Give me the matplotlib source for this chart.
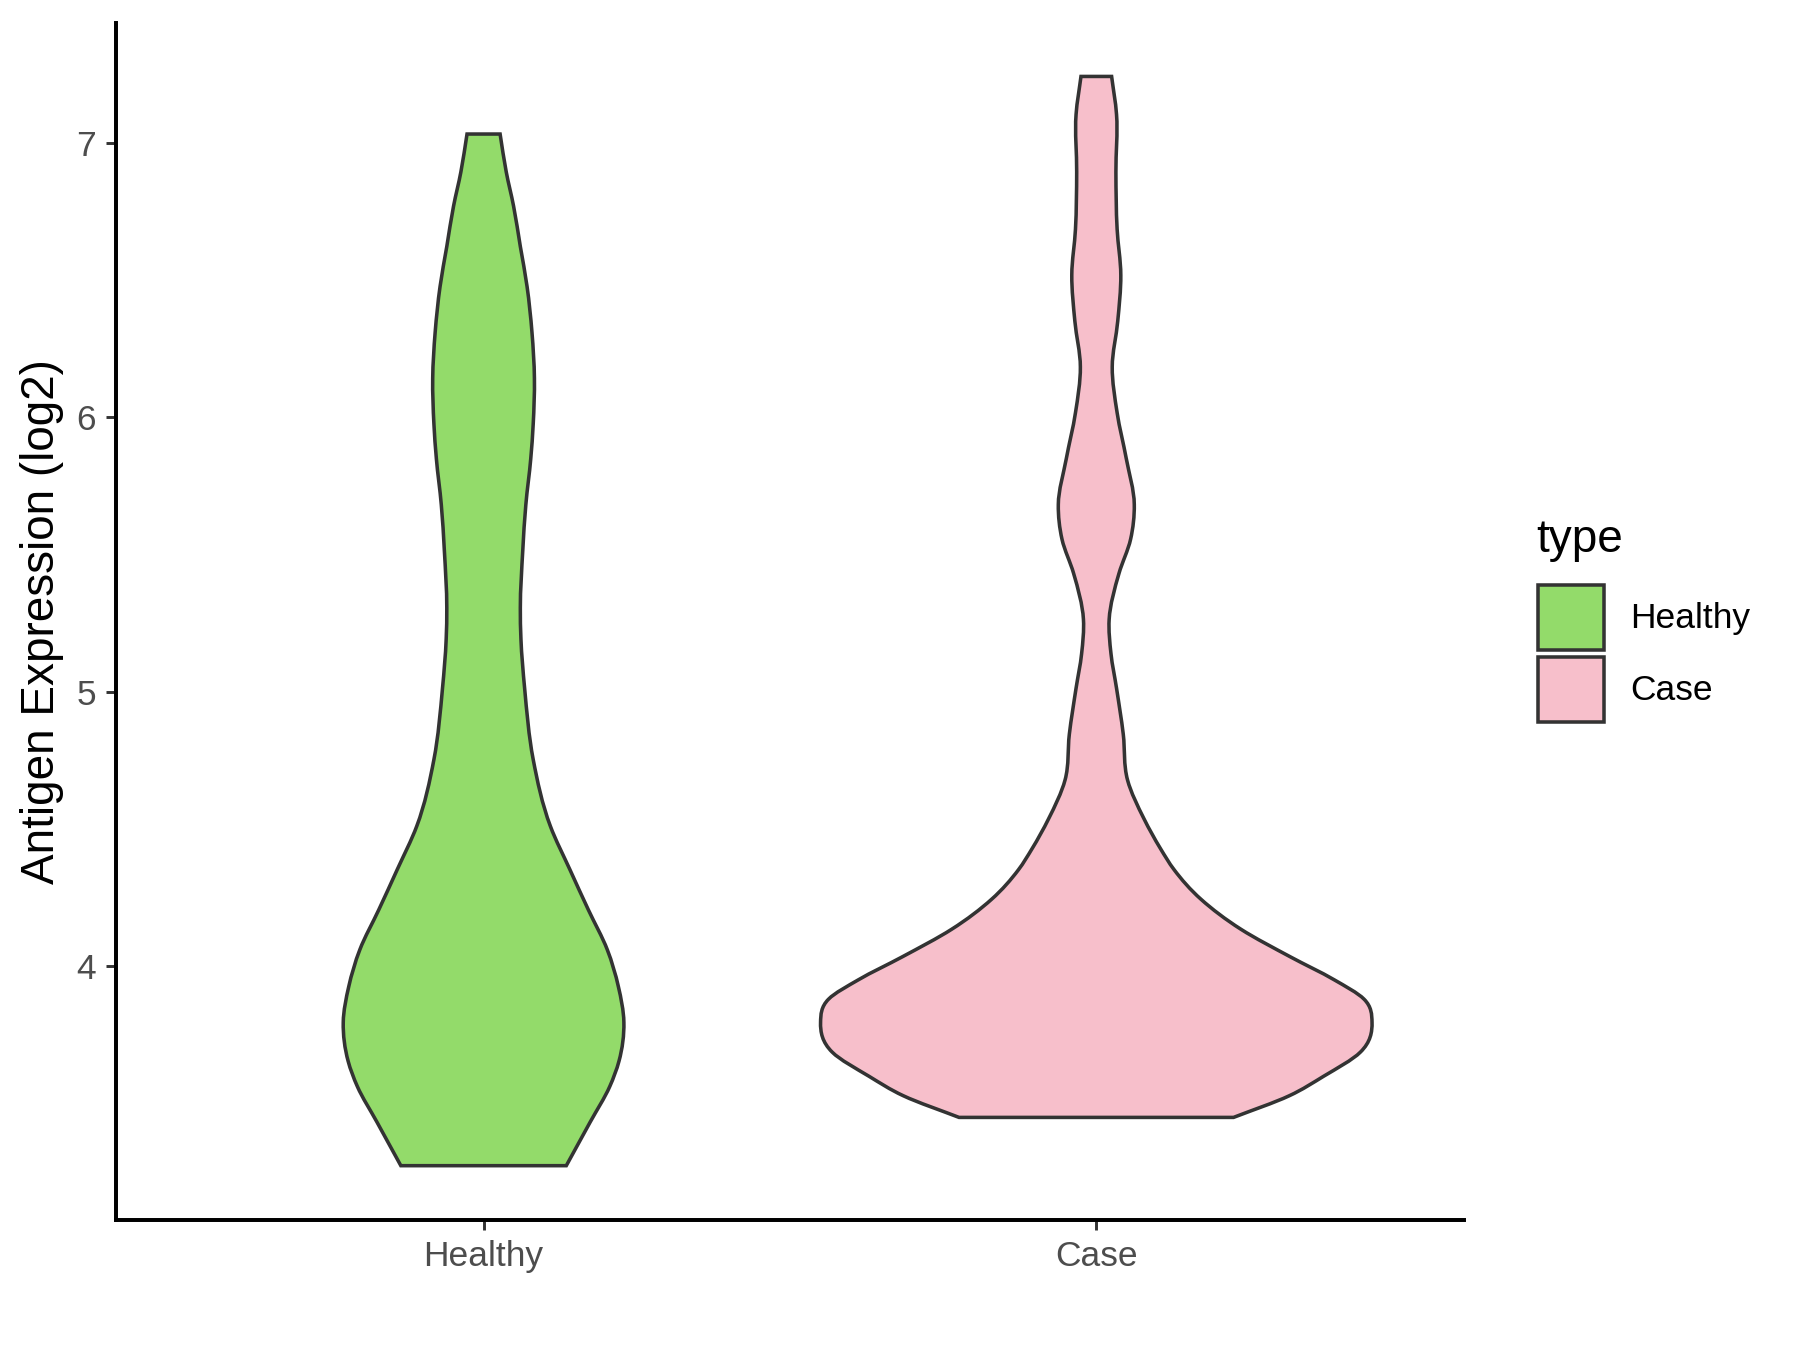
import numpy as np
import matplotlib
matplotlib.use("Agg")
import matplotlib.pyplot as plt
from matplotlib.path import Path
from matplotlib.patches import PathPatch, Rectangle

plt.rcParams['font.family'] = ['Liberation Sans', 'DejaVu Sans']

# violin outlines: y (log2) and half-width (x units), bottom -> top
healthy_y = [3.272, 3.431, 3.561, 3.653, 3.795, 3.925, 4.059, 4.205, 4.351, 4.510, 4.753,
             5.013, 5.192, 5.305, 5.515, 5.682, 5.849, 5.975, 6.142, 6.310, 6.477, 6.623,
             6.770, 6.895, 7.033]
healthy_w = [0.135, 0.174, 0.206, 0.221, 0.229, 0.220, 0.202, 0.171, 0.141, 0.109, 0.081,
             0.067, 0.061, 0.060, 0.064, 0.069, 0.077, 0.081, 0.083, 0.079, 0.071, 0.060,
             0.049, 0.037, 0.027]

case_y = [3.448, 3.527, 3.598, 3.686, 3.795, 3.879, 3.950, 4.033, 4.134, 4.243, 4.351,
          4.427, 4.536, 4.678, 4.845, 5.013, 5.138, 5.264, 5.431, 5.556, 5.682, 5.849,
          6.017, 6.184, 6.351, 6.519, 6.686, 6.895, 7.105, 7.243]
case_w = [0.224, 0.315, 0.371, 0.431, 0.450, 0.437, 0.388, 0.317, 0.236, 0.171, 0.127,
          0.105, 0.078, 0.051, 0.044, 0.033, 0.024, 0.021, 0.037, 0.056, 0.062, 0.049,
          0.034, 0.026, 0.035, 0.040, 0.034, 0.032, 0.033, 0.025]

groups = ['Healthy', 'Case']
colors = ['#93DB6A', '#F7BFCB']
edge = '#333333'


def slopes(ys, ws):
    # dw/dy at each point, weighted finite differences (uneven spacing)
    h = np.diff(ys)
    d = np.diff(ws) / h
    m = np.empty_like(ws)
    m[0] = d[0]
    m[-1] = d[-1]
    m[1:-1] = (d[:-1] * h[1:] + d[1:] * h[:-1]) / (h[:-1] + h[1:])
    return m


def side(center, sign, ys, ws, m):
    # cubic bezier segments along one side, bottom -> top
    verts = []
    for i in range(len(ys) - 1):
        h = ys[i + 1] - ys[i]
        c1 = (center + sign * (ws[i] + m[i] * h / 3), ys[i] + h / 3)
        c2 = (center + sign * (ws[i + 1] - m[i + 1] * h / 3), ys[i + 1] - h / 3)
        verts += [c1, c2, (center + sign * ws[i + 1], ys[i + 1])]
    return verts


def violin_path(center, ys, ws):
    ys = np.array(ys)
    ws = np.array(ws)
    m = slopes(ys, ws)
    verts = [(center - ws[0], ys[0]), (center + ws[0], ys[0])]
    codes = [Path.MOVETO, Path.LINETO]
    right = side(center, 1, ys, ws, m)
    verts += right
    codes += [Path.CURVE4] * len(right)
    verts.append((center - ws[-1], ys[-1]))
    codes.append(Path.LINETO)
    left = side(center, -1, ys[::-1], ws[::-1], m[::-1])
    verts += left
    codes += [Path.CURVE4] * len(left)
    verts.append(verts[0])
    codes.append(Path.CLOSEPOLY)
    return Path(verts, codes)


fig = plt.figure(figsize=(12, 9), dpi=150)
ax = fig.add_axes([0.0644, 0.0963, 0.7489, 0.8867])

data = [(healthy_y, healthy_w), (case_y, case_w)]
for i, (ys, ws) in enumerate(data):
    p = PathPatch(violin_path(i + 1, ys, ws), facecolor=colors[i], edgecolor=edge,
                  linewidth=1.7, joinstyle='miter')
    ax.add_patch(p)

ax.set_xlim(0.4, 2.6)
ax.set_ylim(3.074, 7.438)
ax.set_xticks([1, 2])
ax.set_xticklabels(groups)
ax.set_yticks([4, 5, 6, 7])
for s in ['top', 'right']:
    ax.spines[s].set_visible(False)
for s in ['left', 'bottom']:
    ax.spines[s].set_linewidth(1.9)
    ax.spines[s].set_color('black')
ax.tick_params(axis='both', length=4.6, width=1.4, color='#333333', labelsize=17,
               labelcolor='#4D4D4D', pad=5)
ax.set_ylabel('Antigen Expression (log2)', fontsize=22, labelpad=6)

# legend drawn by hand, ggplot style
fig.text(1536 / 1800, 1 - 540 / 1350, 'type', fontsize=22, ha='left', va='center')
key_top = [585, 657]
for i, g in enumerate(groups):
    y0 = key_top[i]
    fig.add_artist(Rectangle((1538 / 1800, 1 - (y0 + 65) / 1350), 66 / 1800, 65 / 1350,
                             transform=fig.transFigure, facecolor=colors[i],
                             edgecolor=edge, linewidth=1.7))
    fig.text(1630 / 1800, 1 - (y0 + 33) / 1350, g, fontsize=17, ha='left', va='center')

fig.savefig('out.png', dpi=150)
